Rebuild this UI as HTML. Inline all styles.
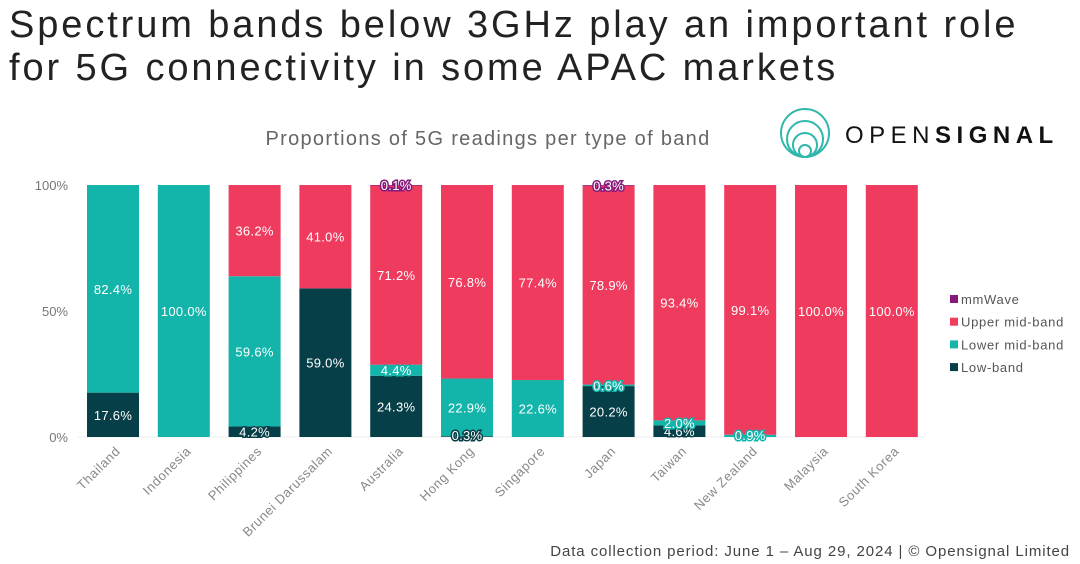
<!DOCTYPE html>
<html><head><meta charset="utf-8">
<style>
body{margin:0;width:1080px;height:564px;background:#fff;font-family:"Liberation Sans",sans-serif;overflow:hidden;position:relative}
.title{position:absolute;left:9px;top:4px;font-size:38px;line-height:43px;color:#222;font-weight:normal;letter-spacing:2.9px;white-space:nowrap}
.foot{position:absolute;right:10px;top:543px;font-size:15px;color:#444;letter-spacing:0.9px;white-space:nowrap}
</style></head><body>
<div class="title">Spectrum bands below 3GHz play an important role<br>for 5G connectivity in some APAC markets</div>
<div class="foot">Data collection period: June 1 – Aug 29, 2024 | © Opensignal Limited</div>
<svg id="chart" width="1080" height="564" style="position:absolute;left:0;top:0">
<text x="488" y="145" text-anchor="middle" font-size="20" fill="#666" letter-spacing="1.3">Proportions of 5G readings per type of band</text>
<g fill="none" stroke="#2fb7ab" stroke-width="2">
<circle cx="805" cy="133" r="24"/><circle cx="805" cy="139" r="18"/><circle cx="805" cy="145" r="12"/><circle cx="805" cy="151" r="6"/>
</g>
<text x="845" y="143" font-size="24" fill="#111" letter-spacing="5.5">OPEN<tspan font-weight="bold">SIGNAL</tspan></text>
</svg>
<script>
const categories=["Thailand","Indonesia","Philippines","Brunei Darussalam","Australia","Hong Kong","Singapore","Japan","Taiwan","New Zealand","Malaysia","South Korea"];
const lowBand=[17.6,0,4.2,59.0,24.3,0.3,0,20.2,4.6,0,0,0];
const lowerMid=[82.4,100,59.6,0,4.4,22.9,22.6,0.6,2.0,0.9,0,0];
const upperMid=[0,0,36.2,41.0,71.2,76.8,77.4,78.9,93.4,99.1,100,100];
const mmWave=[0,0,0,0,0.1,0,0,0.3,0,0,0,0];
const yTicks=[0,50,100];
const seriesNames=["mmWave","Upper mid-band","Lower mid-band","Low-band"];
const colors={low:"#073f48",lower:"#13b5aa",upper:"#ef3b5e",mm:"#86197a"};
const svg=document.getElementById('chart');
const NS="http://www.w3.org/2000/svg";
const y0=437,y100=185,x0=87,pitch=70.8,bw=52;
const yS=v=>y0-(y0-y100)*v/100;
const xS=i=>x0+pitch*i;
function mk(t,a){const e=document.createElementNS(NS,t);for(const k in a)e.setAttribute(k,a[k]);svg.appendChild(e);return e;}
yTicks.forEach(t=>{
 const e=mk('text',{x:68,y:yS(t)+5,'text-anchor':'end','font-size':13,fill:'#777'});
 
 
 e.textContent=t+'%';
});
const ax=mk('line',{x1:78,x2:925,y1:y0,y2:y0,stroke:'#eee'});


const series=[["low",lowBand],["lower",lowerMid],["upper",upperMid],["mm",mmWave]];
categories.forEach((c,i)=>{
 let acc=0;
 const segs=[];
 series.forEach(([k,arr])=>{
  const v=arr[i];
  if(v>0){
   const r=mk('rect',{x:xS(i),y:yS(acc+v),width:bw,height:Math.max(yS(acc)-yS(acc+v),0.5),fill:colors[k]});
   
   
   segs.push([k,v,acc]);
  }
  acc+=v;
 });
 segs.forEach(([k,v,a])=>{
  const small=v<5;
  const yc=(yS(a)+yS(a+v))/2+5;
  const attrs={x:xS(i)+bw/2,y:Math.min(yc,y0+3),'text-anchor':'middle','font-size':13,fill:'#fff','letter-spacing':0.3};
  if(small){attrs.stroke=colors[k];attrs['stroke-width']=3;attrs['paint-order']='stroke';}
  const t=mk('text',attrs);
  
  
  t.textContent=v.toFixed(1)+'%';
 });
 const cx=xS(i)+bw/2+8, cy=452;
 const lt=mk('text',{x:cx,y:cy,'text-anchor':'end','font-size':13,fill:'#888','letter-spacing':0.6,transform:`rotate(-45 ${cx} ${cy})`});
 
 
 lt.textContent=c;
});
const legCols=[colors.mm,colors.upper,colors.lower,colors.low];
seriesNames.forEach((n,j)=>{
 const y=300+j*22.7;
 const r=mk('rect',{x:950,y:y-5,width:8,height:8,fill:legCols[j]});
 
 
 const t=mk('text',{x:961,y:y+4,'font-size':13,fill:'#555','letter-spacing':0.7});
 
 
 t.textContent=n;
});
</script>
</body></html>
